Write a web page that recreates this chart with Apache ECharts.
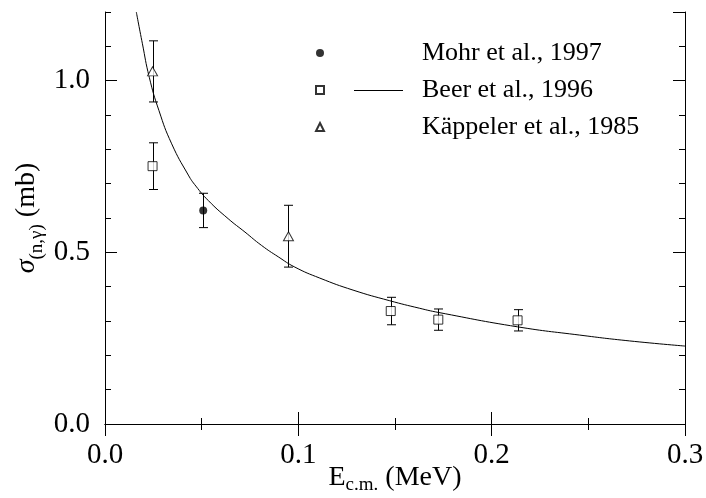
<!DOCTYPE html>
<html>
<head>
<meta charset="utf-8">
<script src="https://cdn.jsdelivr.net/npm/echarts@6/dist/echarts.min.js"></script>
<style>
  html, body { margin: 0; padding: 0; background: #fff; }
  #chart { width: 706px; height: 498px; }
</style>
</head>
<body>
<div id="chart"></div>
<script>
// E in MeV, sigma in mb
const mohrE = [0.0508];
const mohrSigma = [0.622];
const mohrErr = [0.050];

const beerE = [0.0246, 0.1478, 0.1724, 0.2134];
const beerSigma = [0.751, 0.329, 0.304, 0.302];
const beerErr = [0.068, 0.040, 0.031, 0.031];

const kaepplerE = [0.0246, 0.0949];
const kaepplerSigma = [1.027, 0.547];
const kaepplerErr = [0.089, 0.090];

// Beer et al. 1996 curve
const curveE = [0.0162, 0.0193, 0.0229, 0.0279, 0.0345, 0.0431, 0.0470, 0.0534, 0.0637,
  0.0724, 0.0810, 0.0896, 0.0982, 0.1111, 0.1283, 0.1473, 0.1628, 0.1724, 0.2134,
  0.2455, 0.2713, 0.3000];
const curveSigma = [1.200, 1.109, 1.010, 0.913, 0.816, 0.725, 0.693, 0.651, 0.598,
  0.559, 0.520, 0.487, 0.457, 0.425, 0.390, 0.359, 0.337, 0.325, 0.283,
  0.259, 0.242, 0.227];

const xTickLabels = ['0.0', '0.1', '0.2', '0.3'];
const yTickLabels = ['0.0', '0.5', '1.0'];

const FONT = 'Liberation Serif';
const BLACK = '#000';

const chart = echarts.init(document.getElementById('chart'), null, { renderer: 'canvas' });

function pairs(xs, ys) {
  return xs.map((x, i) => [x, ys[i]]);
}

function errData(xs, ys, errs) {
  return xs.map((x, i) => [x, ys[i] - errs[i], ys[i] + errs[i]]);
}

function renderErr(params, api) {
  const x = api.value(0);
  const lo = api.coord([x, api.value(1)]);
  const hi = api.coord([x, api.value(2)]);
  const cx = Math.round(lo[0]) + 0.5;
  const hw = 4.5;
  const st = { stroke: BLACK, lineWidth: 1, fill: null };
  return {
    type: 'group',
    children: [
      { type: 'line', shape: { x1: cx, y1: lo[1], x2: cx, y2: hi[1] }, style: st },
      { type: 'line', shape: { x1: cx - hw, y1: lo[1], x2: cx + hw, y2: lo[1] }, style: st },
      { type: 'line', shape: { x1: cx - hw, y1: hi[1], x2: cx + hw, y2: hi[1] }, style: st }
    ]
  };
}

function errSeries(xs, ys, errs) {
  return {
    type: 'custom',
    renderItem: renderErr,
    data: errData(xs, ys, errs),
    encode: { x: 0, y: [1, 2] },
    silent: true,
    z: 2
  };
}

const tickLine = { color: BLACK, width: 1 };
const axisLine = { show: true, lineStyle: { color: BLACK, width: 1 } };

function xAx(pos, showLabel) {
  return {
    type: 'value', position: pos, min: 0, max: 0.3, interval: 0.1,
    axisLine: axisLine,
    axisTick: { show: true, inside: true, length: 12, lineStyle: tickLine },
    minorTick: { show: true, splitNumber: 2, length: 6, lineStyle: tickLine },
    splitLine: { show: false },
    axisLabel: showLabel ? {
      show: true, margin: 17, fontFamily: FONT, fontSize: 29, color: BLACK,
      formatter: (v, i) => xTickLabels[i] ?? ''
    } : { show: false }
  };
}

function yAx(pos, interval, len, showLabel, showLine) {
  return {
    type: 'value', position: pos, min: 0, max: 1.2, interval: interval,
    axisLine: showLine ? axisLine : { show: false },
    axisTick: { show: true, inside: true, length: len, lineStyle: tickLine },
    splitLine: { show: false },
    axisLabel: showLabel ? {
      show: true, margin: 15, fontFamily: FONT, fontSize: 29, color: BLACK,
      showMaxLabel: false,
      formatter: (v, i) => yTickLabels[i] ?? ''
    } : { show: false }
  };
}

const yMain = yAx('left', 0.5, 12, true, true);
yMain.name = '{s|σ}{sub|(n,γ)}{n| (mb)}';
yMain.nameLocation = 'middle';
yMain.nameRotate = 90;
yMain.nameGap = 62;
yMain.nameMoveOverlap = false;
yMain.nameTextStyle = {
  fontFamily: FONT, color: BLACK,
  rich: {
    s: { fontFamily: FONT, fontSize: 28, fontStyle: 'italic', color: BLACK, lineHeight: 30, verticalAlign: 'top' },
    sub: { fontFamily: FONT, fontSize: 19, color: BLACK, lineHeight: 19, padding: [15, 0, 0, 0], verticalAlign: 'top' },
    n: { fontFamily: FONT, fontSize: 28, color: BLACK, lineHeight: 30, verticalAlign: 'top' }
  }
};

const xMain = xAx('bottom', true);
xMain.name = '{e|E}{sub|c.m.}{n| (MeV)}';
xMain.nameLocation = 'middle';
xMain.nameGap = 40;
xMain.nameMoveOverlap = false;
xMain.nameTextStyle = {
  fontFamily: FONT, color: BLACK,
  rich: {
    e: { fontFamily: FONT, fontSize: 28, color: BLACK, lineHeight: 30, verticalAlign: 'top' },
    sub: { fontFamily: FONT, fontSize: 19, color: BLACK, lineHeight: 19, padding: [12, 0, 0, 0], verticalAlign: 'top' },
    n: { fontFamily: FONT, fontSize: 28, color: BLACK, lineHeight: 30, verticalAlign: 'top' }
  }
};

const option = {
  backgroundColor: '#fff',
  animation: false,
  grid: { left: 105, right: 21, top: 12, bottom: 74, outerBoundsMode: 'none' },
  xAxis: [xMain, xAx('top', false)],
  yAxis: [
    yMain,
    yAx('left', 0.1, 6, false, false),
    yAx('right', 0.5, 12, false, true),
    yAx('right', 0.1, 6, false, false)
  ],
  legend: [
    {
      orient: 'vertical', left: 310, top: 33,
      itemWidth: 8, itemHeight: 8, itemGap: 7,
      selectedMode: false,
      data: ['Mohr et al., 1997', 'Beer et al., 1996', 'Käppeler et al., 1985'],
      textStyle: { fontFamily: FONT, fontSize: 26, lineHeight: 30, color: BLACK, padding: [0, 0, 0, 93] }
    },
    {
      orient: 'vertical', left: 349, top: 85,
      itemWidth: 49, itemHeight: 1,
      selectedMode: false,
      icon: 'rect',
      data: ['Beer et al., 1996 fit'],
      formatter: () => '',
      textStyle: { fontSize: 1 }
    }
  ],
  series: [
    {
      name: 'Beer et al., 1996 fit', type: 'line',
      data: pairs(curveE, curveSigma),
      smooth: 0.5, symbol: 'none',
      lineStyle: { color: BLACK, width: 1 }, itemStyle: { color: BLACK },
      z: 1
    },
    errSeries(mohrE, mohrSigma, mohrErr),
    errSeries(beerE, beerSigma, beerErr),
    errSeries(kaepplerE, kaepplerSigma, kaepplerErr),
    {
      name: 'Mohr et al., 1997', type: 'scatter', symbol: 'circle', symbolSize: 8,
      data: pairs(mohrE, mohrSigma),
      itemStyle: { color: BLACK, borderWidth: 0 }, z: 3
    },
    {
      name: 'Beer et al., 1996', type: 'scatter', symbol: 'rect', symbolSize: 9,
      data: pairs(beerE, beerSigma),
      itemStyle: { color: '#fff', borderColor: BLACK, borderWidth: 1 }, z: 3
    },
    {
      name: 'Käppeler et al., 1985', type: 'scatter', symbol: 'triangle', symbolSize: [10, 9],
      data: pairs(kaepplerE, kaepplerSigma),
      itemStyle: { color: '#fff', borderColor: BLACK, borderWidth: 1 }, z: 3
    }
  ]
};

chart.setOption(option);
</script>
</body>
</html>
